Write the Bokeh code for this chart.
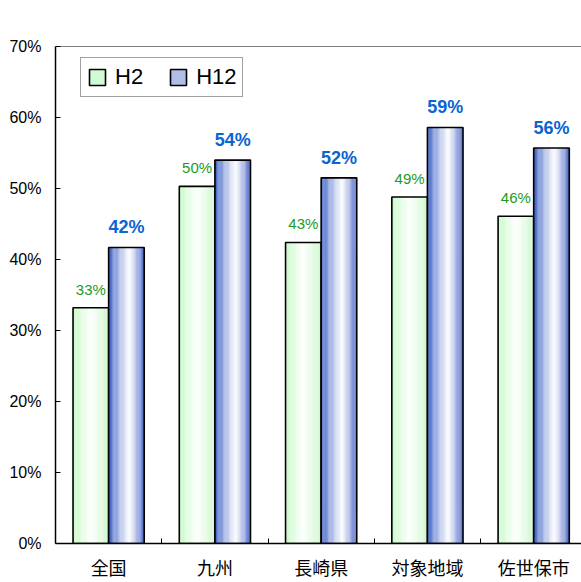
from bokeh.plotting import figure
from bokeh.models import (Range1d, FixedTicker, PrintfTickFormatter, Span, Legend,
                          LegendItem)
from bokeh.core.properties import value
from bokeh.embed import file_html
from bokeh.resources import INLINE

categories = ["全国", "九州", "長崎県", "対象地域", "佐世保市"]
h2 = [33.2, 50.3, 42.4, 48.8, 46.1]
h12 = [41.7, 54.0, 51.5, 58.6, 55.7]
h2_labels = ["33%", "50%", "43%", "49%", "46%"]
h12_labels = ["42%", "54%", "52%", "59%", "56%"]
series_names = ["H2", "H12"]
y_ticks = [0, 10, 20, 30, 40, 50, 60, 70]

BAR_W = 0.335
OFF2 = -0.1675
OFF12 = 0.1675
N = 30

p = figure(width=581, height=582, output_backend="svg", toolbar_location=None,
           x_range=Range1d(-0.5, 4.45), y_range=Range1d(0, 70),
           min_border_left=55, min_border_right=0, min_border_top=46,
           min_border_bottom=38)
p.outline_line_color = None
p.background_fill_color = "white"
p.xgrid.visible = False
p.ygrid.visible = False

def lerp(c1, c2, t):
    return tuple(int(round(a + (b - a) * t)) for a, b in zip(c1, c2))

def blue_color(t):
    dark = (40, 80, 190)
    right = (70, 100, 198)
    white = (252, 252, 255)
    if t < 0.58:
        return "#%02x%02x%02x" % lerp(dark, white, (t / 0.58) ** 0.75)
    return "#%02x%02x%02x" % lerp(white, right, ((t - 0.58) / 0.42) ** 1.2)

def green_color(t):
    edge_l = (198, 250, 198)
    edge_r = (205, 247, 205)
    white = (253, 255, 253)
    if t < 0.5:
        return "#%02x%02x%02x" % lerp(edge_l, white, t / 0.5)
    return "#%02x%02x%02x" % lerp(white, edge_r, (t - 0.5) / 0.5)

idx = list(range(len(categories)))

def draw_series(vals, off, colfn, legend_t):
    sw = BAR_W / N
    legend_r = None
    for k in range(N):
        t = (k + 0.5) / N
        xs = [i + off - BAR_W / 2 + (k + 0.5) * sw for i in idx]
        r = p.vbar(x=xs, top=vals, bottom=0, width=sw * 1.1,
                   fill_color=colfn(t), line_color=None)
        if legend_r is None and t >= legend_t:
            legend_r = r
    outline = p.vbar(x=[i + off for i in idx], top=vals, bottom=0, width=BAR_W,
                     fill_color=None, line_color="black", line_width=1.6)
    return legend_r, outline

g_r, g_o = draw_series(h2, OFF2, green_color, 0.1)
b_r, b_o = draw_series(h12, OFF12, blue_color, 0.3)

# value labels
p.text(x=[i + OFF2 for i in idx], y=h2, text=h2_labels, text_align="center",
       text_baseline="bottom", y_offset=-10, text_color="#1e9a1e",
       text_font=value("Liberation Sans"), text_font_size="15px")
p.text(x=[i + OFF12 for i in idx], y=h12, text=h12_labels, text_align="center",
       text_baseline="bottom", y_offset=-10, text_color="#0a64d2",
       text_font=value("Liberation Sans"), text_font_size="18px",
       text_font_style="bold")

# top border
p.add_layout(Span(location=70, dimension="width", line_color="black", line_width=1))

# axes
xa = p.xaxis[0]
xa.ticker = FixedTicker(ticks=idx, minor_ticks=[i + 0.5 for i in idx[:-1]])
xa.major_label_overrides = {i: c for i, c in zip(idx, categories)}
xa.major_tick_in = 0
xa.major_tick_out = 0
xa.minor_tick_in = 5
xa.minor_tick_out = 0
xa.minor_tick_line_color = "black"
xa.axis_line_color = "black"
xa.axis_line_width = 1.5
xa.major_label_text_font = "Noto Sans CJK JP"
xa.major_label_text_font_size = "18px"
xa.major_label_text_color = "black"
xa.major_label_standoff = 10

ya = p.yaxis[0]
ya.ticker = FixedTicker(ticks=y_ticks)
ya.formatter = PrintfTickFormatter(format="%d%%")
ya.major_tick_in = 5
ya.major_tick_out = 0
ya.minor_tick_line_color = None
ya.axis_line_color = "black"
ya.axis_line_width = 1.5
ya.major_label_text_font = "Liberation Sans"
ya.major_label_text_font_size = "16px"
ya.major_label_text_color = "black"
ya.major_label_standoff = 14

legend = Legend(items=[LegendItem(label=series_names[0], renderers=[g_r, g_o]),
                       LegendItem(label=series_names[1], renderers=[b_r, b_o])],
                orientation="horizontal", location=(25, 446),
                glyph_width=20, glyph_height=20, label_standoff=8, spacing=25,
                padding=6, margin=0,
                label_text_font="Liberation Sans", label_text_font_size="22px",
                label_text_color="black",
                border_line_color="#444444", border_line_width=1,
                background_fill_color="white", background_fill_alpha=1)
p.add_layout(legend, "center")

open("out.html", "w").write(file_html(p, INLINE))
